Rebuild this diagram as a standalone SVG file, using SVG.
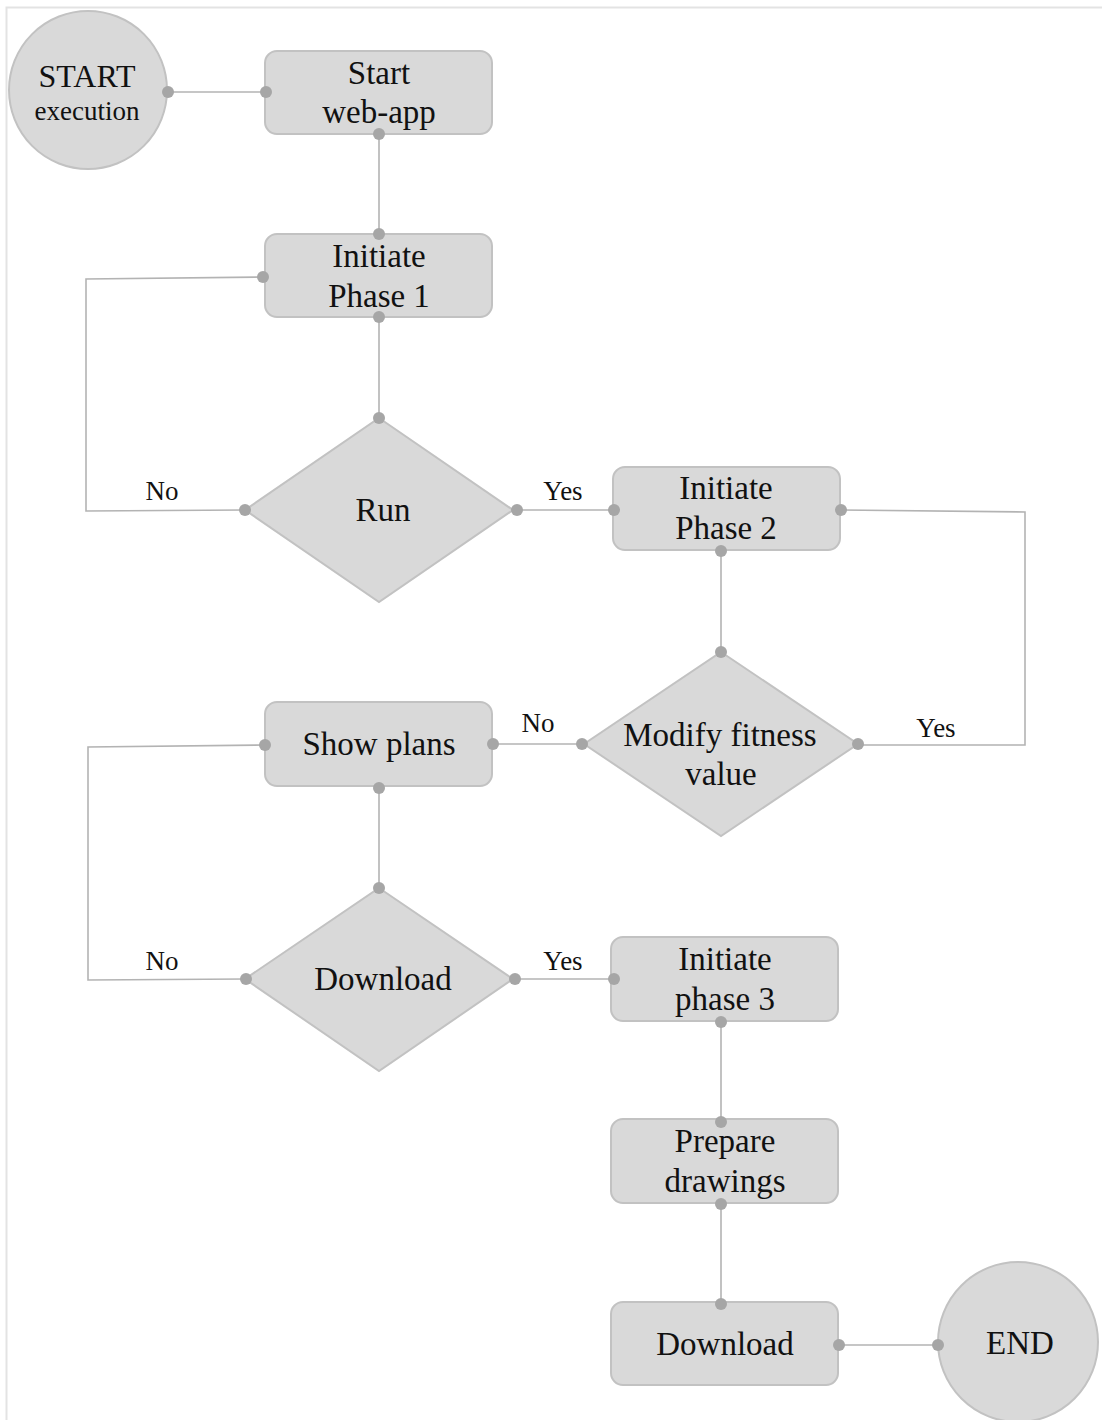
<svg xmlns="http://www.w3.org/2000/svg" width="1102" height="1420" viewBox="0 0 1102 1420">
  <style>
    .shape { fill: #d9d9d9; stroke: #c2c2c2; stroke-width: 2; }
    .wire { fill: none; stroke: #b3b3b3; stroke-width: 1.6; }
    .dot { fill: #a6a6a6; }
    text { font-family: "Liberation Serif", "Times New Roman", serif; fill: #111; text-anchor: middle; }
    .t { font-size: 33px; }
    .lbl { font-size: 27px; }
  </style>
  <defs>
    <circle id="pin" r="6" class="dot"/>
  </defs>
  <rect width="1102" height="1420" fill="#ffffff"/>
  <!-- page frame -->
  <path d="M6.5 1420 V7.5 H1102" fill="none" stroke="#e3e3e3" stroke-width="2"/>

  <g id="connectors">
    <path class="wire" d="M167 92 H266"/>
    <path class="wire" d="M379 134 V234"/>
    <path class="wire" d="M379 317 V418"/>
    <path class="wire" d="M245 510 L86 511 V279 L263 277"/>
    <path class="wire" d="M517 510 H614"/>
    <path class="wire" d="M721 550 V652"/>
    <path class="wire" d="M841 510 L1025 512 V745 H858"/>
    <path class="wire" d="M583 744 H493"/>
    <path class="wire" d="M265 745 L88 747 V980 L246 979"/>
    <path class="wire" d="M379 787 V888"/>
    <path class="wire" d="M515 979 H614"/>
    <path class="wire" d="M721 1021 V1122"/>
    <path class="wire" d="M721 1203 V1304"/>
    <path class="wire" d="M839 1345 H938"/>
    <text class="lbl" x="162" y="500">No</text>
    <text class="lbl" x="563" y="500">Yes</text>
    <text class="lbl" x="538" y="732">No</text>
    <text class="lbl" x="936" y="737">Yes</text>
    <text class="lbl" x="162" y="970">No</text>
    <text class="lbl" x="563" y="970">Yes</text>
  </g>

  <g id="start">
    <circle class="shape" cx="88" cy="90" r="79"/>
    <text x="87" y="87" style="font-size:32px">START</text>
    <text x="87" y="120" style="font-size:27px">execution</text>
    <use href="#pin" x="168" y="92"/>
  </g>

  <g id="start-webapp">
    <rect class="shape" x="265" y="51" width="227" height="83" rx="12"/>
    <text class="t" x="379" y="84">Start</text>
    <text class="t" x="379" y="123">web-app</text>
    <use href="#pin" x="266" y="92"/>
    <use href="#pin" x="379" y="134"/>
  </g>

  <g id="phase1">
    <rect class="shape" x="265" y="234" width="227" height="83" rx="12"/>
    <text class="t" x="379" y="267">Initiate</text>
    <text class="t" x="379" y="307">Phase 1</text>
    <use href="#pin" x="379" y="234"/>
    <use href="#pin" x="263" y="277"/>
    <use href="#pin" x="379" y="317"/>
  </g>

  <g id="run">
    <polygon class="shape" points="379,418 513,510 379,602 245,510"/>
    <text class="t" x="383" y="521">Run</text>
    <use href="#pin" x="379" y="418"/>
    <use href="#pin" x="245" y="510"/>
    <use href="#pin" x="517" y="510"/>
  </g>

  <g id="phase2">
    <rect class="shape" x="613" y="467" width="227" height="83" rx="12"/>
    <text class="t" x="726" y="499">Initiate</text>
    <text class="t" x="726" y="539">Phase 2</text>
    <use href="#pin" x="614" y="510"/>
    <use href="#pin" x="841" y="510"/>
    <use href="#pin" x="721" y="551"/>
  </g>

  <g id="modify-fitness">
    <polygon class="shape" points="721,652 858,744 721,836 584,744"/>
    <text class="t" x="720" y="746">Modify fitness</text>
    <text class="t" x="721" y="785">value</text>
    <use href="#pin" x="721" y="652"/>
    <use href="#pin" x="582" y="744"/>
    <use href="#pin" x="858" y="744"/>
  </g>

  <g id="show-plans">
    <rect class="shape" x="265" y="702" width="227" height="84" rx="12"/>
    <text class="t" x="379" y="755">Show plans</text>
    <use href="#pin" x="265" y="745"/>
    <use href="#pin" x="493" y="744"/>
    <use href="#pin" x="379" y="788"/>
  </g>

  <g id="download-choice">
    <polygon class="shape" points="379,888 513,979 379,1071 245,979"/>
    <text class="t" x="383" y="990">Download</text>
    <use href="#pin" x="379" y="888"/>
    <use href="#pin" x="246" y="979"/>
    <use href="#pin" x="515" y="979"/>
  </g>

  <g id="phase3">
    <rect class="shape" x="611" y="937" width="227" height="84" rx="12"/>
    <text class="t" x="725" y="970">Initiate</text>
    <text class="t" x="725" y="1010">phase 3</text>
    <use href="#pin" x="614" y="979"/>
    <use href="#pin" x="721" y="1022"/>
  </g>

  <g id="prepare-drawings">
    <rect class="shape" x="611" y="1119" width="227" height="84" rx="12"/>
    <text class="t" x="725" y="1152">Prepare</text>
    <text class="t" x="725" y="1192">drawings</text>
    <use href="#pin" x="721" y="1122"/>
    <use href="#pin" x="721" y="1204"/>
  </g>

  <g id="download">
    <rect class="shape" x="611" y="1302" width="227" height="83" rx="12"/>
    <text class="t" x="725" y="1355">Download</text>
    <use href="#pin" x="721" y="1304"/>
    <use href="#pin" x="839" y="1345"/>
  </g>

  <g id="end">
    <circle class="shape" cx="1018" cy="1342" r="80"/>
    <text class="t" x="1020" y="1354">END</text>
    <use href="#pin" x="938" y="1345"/>
  </g>
</svg>
